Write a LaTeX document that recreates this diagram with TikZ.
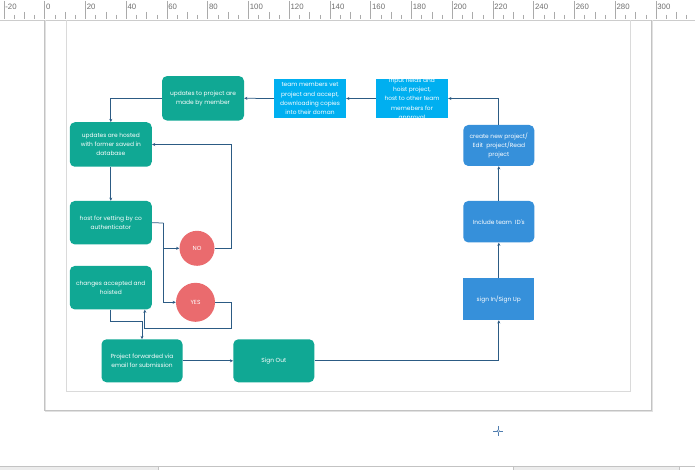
\documentclass[tikz,border=0pt]{standalone}
\usepackage{fontspec}
\setmainfont{Liberation Sans}
\newfontfamily\diagfont{Poppins}
\usetikzlibrary{arrows.meta,calc}

\definecolor{tealbox}{RGB}{16,168,148}
\definecolor{cyanbox}{RGB}{0,175,240}
\definecolor{bluebox}{RGB}{54,144,218}
\definecolor{redcirc}{RGB}{234,107,110}
\definecolor{linkcol}{RGB}{44,91,132}
\definecolor{rulertick}{RGB}{170,170,170}
\definecolor{rulertext}{RGB}{110,110,110}
\definecolor{pageedge}{RGB}{195,195,195}
\definecolor{marginline}{RGB}{218,218,218}
\definecolor{barfill}{RGB}{236,236,236}
\definecolor{crosscol}{RGB}{80,125,175}

\tikzset{
  boxtext/.style={font=\diagfont\fontsize{5.9}{9.2}\selectfont, text=white, align=center, inner sep=0pt},
  tealround/.style={boxtext, fill=tealbox, rounded corners=5pt},
  cyanrect/.style={boxtext, fill=cyanbox},
  blueround/.style={boxtext, fill=bluebox, rounded corners=5pt},
  bluerect/.style={boxtext, fill=bluebox},
  decision/.style={boxtext, circle, fill=redcirc},
  link/.style={draw=linkcol, line width=0.75pt, -{Stealth[length=3.2pt,width=3pt]}},
  linkplain/.style={draw=linkcol, line width=0.75pt},
  rulerlbl/.style={font=\fontsize{7.8}{8}\selectfont, text=rulertext, inner sep=0pt, anchor=west},
}

\begin{document}
\begin{tikzpicture}[x=1pt,y=-1pt]
\useasboundingbox (0,0) rectangle (695,470);
\fill[white] (0,0) rectangle (695,470);

% ---- ruler along the top ----
\foreach \v in {-20,-15,...,315}{
  \pgfmathsetmacro\xx{44.7+2.0375*\v}
  \pgfmathtruncatemacro\mtwenty{mod(abs(\v),20)}
  \pgfmathtruncatemacro\mten{mod(abs(\v),10)}
  \ifnum\mtwenty=0
    \draw[rulertick, line width=0.5pt] (\xx,1) -- (\xx,19.5);
  \else\ifnum\mten=0
    \draw[rulertick, line width=0.5pt] (\xx,12) -- (\xx,19.5);
  \else
    \draw[rulertick, line width=0.5pt] (\xx,15) -- (\xx,19.5);
  \fi\fi
}
\foreach \v [count=\i] in {-20,0,20,...,300}{
  \pgfmathsetmacro\xx{44.7+2.0375*\v}
  \node[rulerlbl] (rl\i) at (\xx+1.2,7) {\v};
}
\draw[rulertick!60, line width=0.6pt] (0,20) -- (695,20);

% ---- page, shadow and margin ----
\draw[pageedge!50, line width=1.2pt] (45.5,20) -- (45.5,411.5) -- (652.5,411.5) -- (652.5,20);
\draw[pageedge, line width=0.8pt] (44,20.5) -- (44,410) -- (651,410) -- (651,20.5);
\draw[marginline, line width=0.8pt] (66,20.5) -- (66,391) -- (630,391) -- (630,20.5);

% ---- scroll bar strip at the bottom ----
\fill[barfill] (0,466.5) rectangle (158,470);
\fill[barfill] (513,466.5) rectangle (679,470);
\draw[pageedge, line width=0.6pt] (0,466.5) -- (695,466.5);
\draw[pageedge, line width=0.6pt] (158,466.5) -- (158,470) (513,466.5) -- (513,470) (679,466.5) -- (679,470);

% ---- cursor cross ----
\draw[crosscol, line width=0.7pt] (493.3,431) -- (503.3,431) (498.3,426) -- (498.3,436);
\draw[crosscol, fill=white, line width=0.5pt] (498.3,431) circle (1.3pt);

% ---- process boxes ----
\node[tealround, minimum width=82pt, minimum height=44.5pt] (upd) at (203,98.3)
  {updates to project are\\made by member};
\node[cyanrect, minimum width=72pt, minimum height=38.5pt] (vet) at (310,98.5)
  {team members vet\\project and accept,\\downloading copies\\into their doman};
\node[cyanrect, minimum width=72pt, minimum height=38.5pt] (inp) at (412,98.5) {};
\begin{scope}
  \clip (inp.south west) rectangle (inp.north east);
  \node[boxtext] (inptxt) at (412,99.5)
    {input fields and\\hoist project,\\host to other team\\memebers for\\approval};
\end{scope}
\node[blueround, minimum width=71pt, minimum height=41pt] (crt) at (498.8,145.5)
  {create new project/\\Edit\ \ project/Read\\project};
\node[blueround, minimum width=71pt, minimum height=41.5pt] (inc) at (498.8,221.7)
  {Include team\ \ ID's};
\node[bluerect, minimum width=71pt, minimum height=41.7pt] (sgn) at (498.8,299.2)
  {sign In/Sign Up};

\node[tealround, minimum width=82pt, minimum height=44.5pt] (hst) at (110.8,144.5)
  {updates are hosted\\with former saved in\\database};
\node[tealround, minimum width=82pt, minimum height=43.5pt] (vtg) at (110.8,222.7)
  {host for vetting by co\\authenticator};
\node[tealround, minimum width=82pt, minimum height=43.5pt] (chg) at (110.8,287.7)
  {changes accepted and\\hoisted};
\node[tealround, minimum width=81pt, minimum height=43pt] (fwd) at (142,360.8)
  {Project forwarded via\\email for submission};
\node[tealround, minimum width=81pt, minimum height=43pt] (out) at (273.8,360.8)
  {Sign Out};

\node[decision, minimum size=35pt] (no) at (197,248.3) {NO};
\node[decision, minimum size=39pt] (yes) at (195.5,302.3) {YES};

% ---- connectors ----
\coordinate (split) at (163.3,223);
\coordinate (noturn) at (231.7,248.3);
\coordinate (yesturn) at (231.7,328.3);
\coordinate (chgin) at ($(chg.south)+(34,0)$);
\coordinate (chgturn) at ($(chg.south)+(0,12.2)$);

\draw[link] (out.east) -| (sgn.south);
\draw[link] (sgn.north) -- (inc.south);
\draw[link] (inc.north) -- (crt.south);
\draw[link] (crt.north) |- (inp.east);
\draw[link] (inp.west) -- (vet.east);
\draw[link] (vet.west) -- (upd.east);
\draw[link] (upd.west) -| (hst.north);
\draw[link] (hst.south) -- (vtg.north);
\draw[linkplain] (vtg.east) -- (split);
\draw[link] (split) |- (no.west);
\draw[link] (split) |- (yes.west);
\draw[link] (no.east) -- (noturn) |- (hst.east);
\draw[link] (yes.east) -| (yesturn) -| (chgin);
\draw[link] (chg.south) -- (chgturn) -| (fwd.north);
\draw[link] (fwd.east) -- (out.west);
\end{tikzpicture}
\end{document}
